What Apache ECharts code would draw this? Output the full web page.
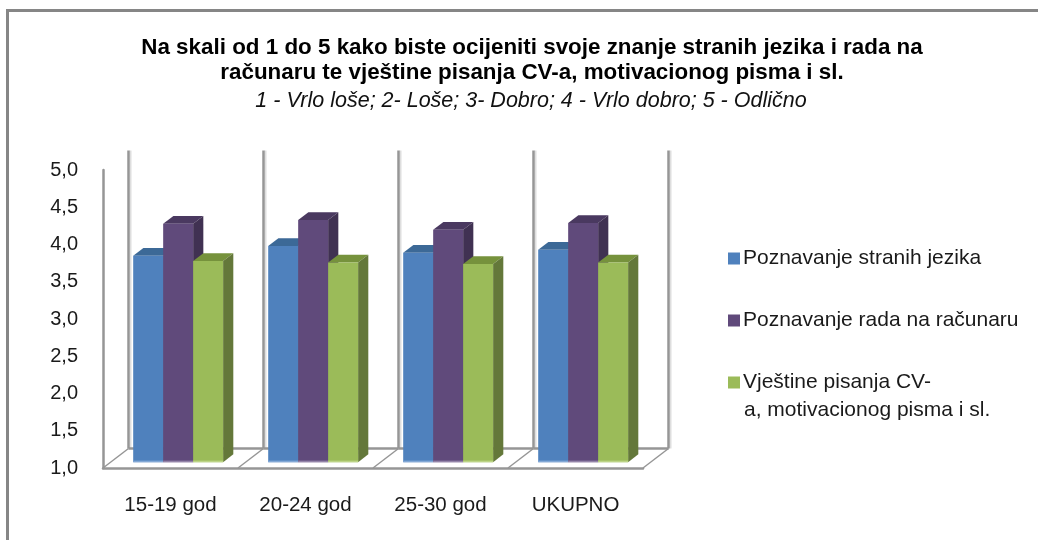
<!DOCTYPE html>
<html>
<head>
<meta charset="utf-8">
<script src="https://cdn.jsdelivr.net/npm/echarts@6/dist/echarts.min.js"></script>
<style>
  html, body { margin: 0; padding: 0; background: #fff; }
  #chart { width: 1038px; height: 540px; }
</style>
</head>
<body>
<div id="chart"></div>
<script>
const categories = ['15-19 god', '20-24 god', '25-30 god', 'UKUPNO']
const poznavanjeJezika = [3.77, 3.90, 3.81, 3.85]
const poznavanjeRacunara = [4.20, 4.25, 4.12, 4.21]
const vjestinePisanja = [3.70, 3.68, 3.66, 3.68]
const yTicks = { min: 1, max: 5, interval: 0.5 }
const seriesNames = ['Poznavanje stranih jezika', 'Poznavanje rada na računaru', 'Vještine pisanja CV-']
const legendSecondLine = 'a, motivacionog pisma i sl.'

const font = '"Liberation Sans", Arial, sans-serif'
const wallColor = '#969696'
// depth of the floor in px, the 3d look is only an offset
const depth = { x: 25.5, y: -19.5 }

function barItem (colors, slot) {
  return (params, api) => {
    let band = api.size([1, 0])[0]
    let width = band * 0.222
    let base = api.coord([api.value(0), 1])
    let top = api.coord([api.value(0), api.value(1)])
    let x = base[0] + depth.x * 0.3 + (slot - 1.5) * width
    let y0 = base[1] + depth.y * 0.3
    let y1 = top[1] + depth.y * 0.3
    let dx = depth.x * 0.4
    let dy = depth.y * 0.4
    return {
      type: 'group',
      children: [
        { type: 'polygon', shape: { points: [[x, y1], [x + dx, y1 + dy], [x + width + dx, y1 + dy], [x + width, y1]] }, style: { fill: colors.top } },
        { type: 'polygon', shape: { points: [[x + width, y1], [x + width + dx, y1 + dy], [x + width + dx, y0 + dy], [x + width, y0]] }, style: { fill: colors.side } },
        { type: 'rect', shape: { x: x, y: y1, width: width, height: y0 - y1 }, style: { fill: colors.front } },
        { type: 'rect', shape: { x: x, y: y0 - 1.5, width: width, height: 1.5 }, style: { fill: colors.glow } }
      ]
    }
  }
}

function frameItem (params, api) {
  let band = api.size([1, 0])[0]
  let i = api.value(0)
  let line = (a, b, w, c) => ({ type: 'line', shape: { x1: a[0], y1: a[1], x2: b[0], y2: b[1] }, style: { stroke: c || wallColor, lineWidth: w } })
  let children = []
  let bottom = api.coord([i, yTicks.min])
  let top = api.coord([i, yTicks.max])
  let edge = (x) => {
    children.push(line([x, bottom[1]], [x + depth.x, bottom[1] + depth.y], 1.5))
    // light shadow right of the divider
    children.push(line([x + depth.x + 2, bottom[1] + depth.y], [x + depth.x + 2, top[1] + depth.y], 2, '#dedede'))
    children.push(line([x + depth.x, bottom[1] + depth.y], [x + depth.x, top[1] + depth.y], 2.5))
  }
  edge(bottom[0] - band / 2)
  if (i === categories.length - 1) edge(bottom[0] + band / 2)
  children.push(line([bottom[0] - band / 2 + depth.x, bottom[1] + depth.y], [bottom[0] + band / 2 + depth.x, bottom[1] + depth.y], 2.5))
  return { type: 'group', children }
}

const barSeries = (name, values, colors, slot) => ({
  name,
  type: 'custom',
  renderItem: barItem(colors, slot),
  itemStyle: { color: colors.front },
  encode: { x: 0, y: 1 },
  data: values.map((v, i) => [i, v]),
  z: 3 + slot
})

const legendBase = {
  orient: 'vertical',
  left: 723,
  icon: 'rect',
  itemWidth: 12,
  itemHeight: 12,
  itemGap: 8,
  selectedMode: false,
  textStyle: { fontFamily: font, fontSize: 21, color: '#1a1a1a', padding: [0, 0, 0, -2] }
}

const chart = echarts.init(document.getElementById('chart'))
chart.setOption({
  animation: false,
  backgroundColor: '#fff',
  title: [
    {
      text: 'Na skali od 1 do 5 kako biste ocijeniti svoje znanje stranih jezika i rada na\nračunaru te vještine pisanja CV-a, motivacionog pisma i sl.',
      left: 527,
      top: 30,
      textAlign: 'center',
      textStyle: { fontFamily: font, fontSize: 22.4, fontWeight: 'bold', color: '#000', lineHeight: 25 }
    },
    {
      text: '1 - Vrlo loše; 2- Loše; 3- Dobro; 4 - Vrlo dobro; 5 - Odlično',
      left: 526,
      top: 85,
      textAlign: 'center',
      textStyle: { fontFamily: font, fontSize: 21.5, fontWeight: 'normal', fontStyle: 'italic', color: '#111' }
    }
  ],
  grid: { left: 103, right: 395, top: 170, bottom: 72 },
  xAxis: {
    type: 'category',
    data: categories,
    axisLine: { lineStyle: { color: wallColor, width: 2.5 } },
    axisTick: { show: false },
    axisLabel: { color: '#1a1a1a', fontFamily: font, fontSize: 20.5, margin: 27 }
  },
  yAxis: {
    type: 'value',
    min: yTicks.min,
    max: yTicks.max,
    interval: yTicks.interval,
    axisLine: { show: true, lineStyle: { color: wallColor, width: 2.5 } },
    axisTick: { show: false },
    splitLine: { show: false },
    axisLabel: {
      color: '#1a1a1a',
      fontFamily: font,
      fontSize: 20,
      margin: 25,
      formatter: (v) => v.toFixed(1).replace('.', ',')
    }
  },
  legend: [
    Object.assign({}, legendBase, { top: 243, data: [seriesNames[0]] }),
    Object.assign({}, legendBase, { top: 305, data: [seriesNames[1]] }),
    Object.assign({}, legendBase, { top: 367, data: [seriesNames[2]] })
  ],
  graphic: [
    { type: 'rect', z: -10, shape: { x: 7.5, y: 10.5, width: 1100, height: 600 }, style: { fill: 'none', stroke: '#868686', lineWidth: 3 } },
    { type: 'text', left: 744, top: 400, style: { text: legendSecondLine, font: '21px ' + font, fill: '#1a1a1a' } }
  ],
  series: [
    {
      name: 'frame',
      type: 'custom',
      renderItem: frameItem,
      encode: { x: 0, y: 1 },
      data: categories.map((c, i) => [i, yTicks.min]),
      z: 1
    },
    barSeries(seriesNames[0], poznavanjeJezika, { front: '#4f81bd', top: '#3c6997', side: '#3c6997', glow: '#82a8d6' }, 0),
    barSeries(seriesNames[1], poznavanjeRacunara, { front: '#604a7b', top: '#4a3960', side: '#403152', glow: '#9384a8' }, 1),
    barSeries(seriesNames[2], vjestinePisanja, { front: '#9bbb59', top: '#76923c', side: '#64783a', glow: '#bcd486' }, 2)
  ]
})
</script>
</body>
</html>
